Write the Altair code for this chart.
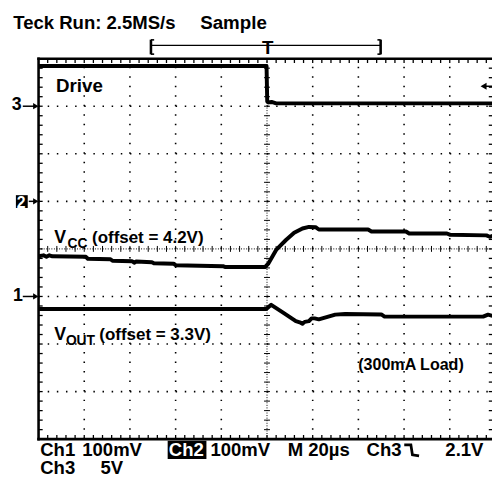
import altair as alt
import pandas as pd
import numpy as np

# ---- screen geometry in oscilloscope divisions (x: 0..10, y: 0..8) ----
XMAX = 9.9245

# ---- traces (divisions) ----
drive_x = [0.0, 4.99, 5.005, 5.03, 5.10, 5.20, 9.99]
drive_y = [7.845, 7.845, 7.10, 7.08, 7.09, 7.06, 7.06]

vcc_x = [0.0, 0.108, 0.173, 0.237, 0.302, 1.036, 1.079, 1.575, 1.618, 2.05, 2.093, 2.136,
         2.481, 2.524, 2.956, 2.999, 4.035, 4.078, 4.962, 5.027, 5.2, 5.415, 5.594, 5.776,
         5.918, 6.063, 6.134, 7.213, 7.286, 8.041, 8.112, 8.939, 9.012, 9.802, 9.875, 9.99]
vcc_y = [3.845, 3.865, 3.834, 3.865, 3.845, 3.834, 3.793, 3.782, 3.751, 3.741, 3.710, 3.735,
         3.720, 3.699, 3.689, 3.658, 3.637, 3.621, 3.621, 3.689, 3.979, 4.187, 4.338, 4.429,
         4.462, 4.456, 4.408, 4.408, 4.367, 4.367, 4.325, 4.325, 4.296, 4.284, 4.255, 4.29]

vout_x = [0.0, 4.984, 5.092, 5.344, 5.631, 5.717, 5.776, 5.825, 5.918, 5.976, 6.041, 6.134,
          6.494, 6.71, 7.502, 7.573, 9.73, 9.838, 9.99]
vout_y = [2.736, 2.736, 2.825, 2.667, 2.481, 2.456, 2.425, 2.466, 2.481, 2.539, 2.539, 2.518,
          2.618, 2.632, 2.622, 2.576, 2.576, 2.618, 2.58]

# ---- texts ----
txt_text = ["Teck Run: 2.5MS/s", "Sample", "Drive",
            "V", "(offset = 4.2V)", "V", "(offset = 3.3V)", "(300mA Load)",
            "Ch1", "100mV", "100mV", "M 20µs", "Ch3", "2.1V", "Ch3", "5V",
            "3", "1"]
txt_x = [-0.554, 3.538, 0.382,
         0.345, 1.17, 0.345, 1.33, 6.997,
         0.037, 0.956, 3.761, 5.452, 7.178, 8.904, 0.037, 1.353,
         -0.589, -0.561]
txt_y = [8.63, 8.63, 7.295,
         4.12, 4.12, 2.093, 2.093, 1.457,
         -0.359, -0.359, -0.359, -0.359, -0.359, -0.359, -0.725, -0.725,
         6.916, 2.908]
txt_size = [18.8, 19, 19,
            18, 17.2, 18, 17.2, 16.3,
            18.8, 18.8, 18.8, 18.8, 18.8, 18.8, 18.8, 18.8,
            18, 18]

sub_text = ["CC", "OUT"]
sub_x = [0.632, 0.598]
sub_y = [4.015, 1.99]

# inverted (white on black) labels
inv_text = ["Ch2", "2"]
inv_x = [2.85, -0.475]
inv_y = [-0.359, 4.86]
inv_box_x = [2.826, -0.496]
inv_box_x2 = [3.674, -0.237]
inv_box_y = [-0.415, 4.86]
inv_box_y2 = [-0.035, 5.13]

# channel ground markers (left) and trigger level (right)
mark_level = [7.0, 5.0, 3.0]
mark_x1 = [-0.345, -0.215, -0.345]
trig_level = 7.42

# trigger position bracket
brk_left, brk_right, brk_y = 2.46, 7.487, 8.28

# falling edge symbol
edge_x = [8.004, 8.149, 8.183, 8.328]
edge_y = [-0.12, -0.12, -0.33, -0.35]

FONT = "Liberation Sans"
XS = alt.Scale(domain=[0, XMAX], nice=False, zero=False)
YS = alt.Scale(domain=[0, 8], nice=False, zero=False)


def X(f):
    return alt.X(f, type="quantitative", scale=XS, axis=None)


def Y(f):
    return alt.Y(f, type="quantitative", scale=YS, axis=None)


layers = []

# dotted grid
gv = pd.DataFrame({"g": [1, 2, 3, 4, 6, 7, 8, 9], "a": 0, "b": 8})
layers.append(alt.Chart(gv).mark_rule(color="black", strokeWidth=1.6, strokeDash=[1.5, 8.15])
              .encode(x=X("g"), y=Y("a"), y2="b"))
gh = pd.DataFrame({"g": [1, 2, 3, 5, 6, 7], "a": 0, "b": XMAX})
layers.append(alt.Chart(gh).mark_rule(color="black", strokeWidth=1.6, strokeDash=[1.5, 7.77])
              .encode(y=Y("g"), x=X("a"), x2="b"))
# center lines
layers.append(alt.Chart(pd.DataFrame({"g": [5], "a": [0], "b": [8]}))
              .mark_rule(color="black", strokeWidth=1, strokeDash=[1, 1.6])
              .encode(x=X("g"), y=Y("a"), y2="b"))
layers.append(alt.Chart(pd.DataFrame({"g": [4], "a": [0], "b": [XMAX]}))
              .mark_rule(color="black", strokeWidth=1, strokeDash=[1, 1.6])
              .encode(y=Y("g"), x=X("a"), x2="b"))
minor_x = np.round(np.arange(0.2, 10, 0.2), 2)
minor_y = np.round(np.arange(0.2, 8, 0.2), 2)
ctx = pd.DataFrame({"t": minor_y, "a": 5 - 0.065, "b": 5 + 0.065})
layers.append(alt.Chart(ctx).mark_rule(color="black", strokeWidth=1)
              .encode(y=Y("t"), x=X("a"), x2="b"))
cty = pd.DataFrame({"t": minor_x, "a": 4 - 0.062, "b": 4 + 0.062})
layers.append(alt.Chart(cty).mark_rule(color="black", strokeWidth=1, clip=True)
              .encode(x=X("t"), y=Y("a"), y2="b"))
# border ticks
bt = pd.DataFrame({"t": minor_x, "a": 8 - 0.09, "b": 8})
layers.append(alt.Chart(bt).mark_rule(color="black", strokeWidth=1.3, clip=True)
              .encode(x=X("t"), y=Y("a"), y2="b"))
bb = pd.DataFrame({"t": minor_x, "a": 0, "b": 0.09})
layers.append(alt.Chart(bb).mark_rule(color="black", strokeWidth=1.3, clip=True)
              .encode(x=X("t"), y=Y("a"), y2="b"))
bl = pd.DataFrame({"t": minor_y, "a": 0, "b": 0.09})
layers.append(alt.Chart(bl).mark_rule(color="black", strokeWidth=1.3)
              .encode(y=Y("t"), x=X("a"), x2="b"))
br = pd.DataFrame({"t": minor_y, "a": XMAX - 0.07, "b": XMAX})
layers.append(alt.Chart(br).mark_rule(color="black", strokeWidth=1.3)
              .encode(y=Y("t"), x=X("a"), x2="b"))
# frame (top, bottom, left)
fr = pd.DataFrame({"x": [0, 0, 0], "x2": [XMAX, XMAX, 0], "y": [8, 0, 0], "y2": [8, 0, 8]})
layers.append(alt.Chart(fr).mark_rule(color="black", strokeWidth=2.6, strokeCap="square")
              .encode(x=X("x"), x2="x2", y=Y("y"), y2="y2"))

# traces
for tx, ty in [(drive_x, drive_y), (vcc_x, vcc_y), (vout_x, vout_y)]:
    d = pd.DataFrame({"x": tx, "y": ty, "o": range(len(tx))})
    layers.append(alt.Chart(d).mark_line(color="black", strokeWidth=4, clip=True,
                                          strokeJoin="round", strokeCap="round")
                  .encode(x=X("x"), y=Y("y"), order="o:O"))

# falling edge symbol
ed = pd.DataFrame({"x": edge_x, "y": edge_y, "o": range(len(edge_x))})
layers.append(alt.Chart(ed).mark_line(color="black", strokeWidth=2.8)
              .encode(x=X("x"), y=Y("y"), order="o:O"))

# trigger bracket
layers.append(alt.Chart(pd.DataFrame({"a": [brk_left], "b": [brk_right], "y": [brk_y]}))
              .mark_rule(color="black", strokeWidth=1.4)
              .encode(x=X("a"), x2="b", y=Y("y")))
bv = pd.DataFrame({"x": [brk_left, brk_right], "a": [brk_y - 0.19] * 2, "b": [brk_y + 0.12] * 2})
layers.append(alt.Chart(bv).mark_rule(color="black", strokeWidth=2.6)
              .encode(x=X("x"), y=Y("a"), y2="b"))
serif = pd.DataFrame({"a": [brk_left, brk_left, brk_right - 0.07, brk_right - 0.07],
                      "b": [brk_left + 0.07, brk_left + 0.07, brk_right, brk_right],
                      "y": [brk_y - 0.185, brk_y + 0.115, brk_y - 0.185, brk_y + 0.115]})
layers.append(alt.Chart(serif).mark_rule(color="black", strokeWidth=1.6)
              .encode(x=X("a"), x2="b", y=Y("y")))
layers.append(alt.Chart(pd.DataFrame({"x": [5.016], "y": [8.10], "t": ["T"]}))
              .mark_text(font=FONT, fontWeight="bold", fontSize=19, baseline="alphabetic", align="center")
              .encode(x=X("x"), y=Y("y"), text="t"))

# ground markers arrows
gm = pd.DataFrame({"y": mark_level, "a": mark_x1, "b": [-0.06] * 3})
layers.append(alt.Chart(gm).mark_rule(color="black", strokeWidth=1.5)
              .encode(x=X("a"), x2="b", y=Y("y")))
gp = pd.DataFrame({"y": mark_level, "x": [-0.06] * 3})
layers.append(alt.Chart(gp).mark_point(shape="triangle-right", filled=True, color="black", size=40, opacity=1)
              .encode(x=X("x"), y=Y("y")))
# trigger level arrow (right)
layers.append(alt.Chart(pd.DataFrame({"y": [trig_level], "a": [9.75], "b": [XMAX]}))
              .mark_rule(color="black", strokeWidth=1.5)
              .encode(x=X("a"), x2="b", y=Y("y")))
layers.append(alt.Chart(pd.DataFrame({"y": [trig_level], "x": [9.74]}))
              .mark_point(shape="triangle-left", filled=True, color="black", size=50, opacity=1)
              .encode(x=X("x"), y=Y("y")))

# inverted boxes
ib = pd.DataFrame({"x": inv_box_x, "x2": inv_box_x2, "y": inv_box_y, "y2": inv_box_y2})
layers.append(alt.Chart(ib).mark_rect(color="black")
              .encode(x=X("x"), x2="x2", y=Y("y"), y2="y2"))
it = pd.DataFrame({"x": inv_x, "y": inv_y, "t": inv_text, "s": [18.8, 16]})
layers.append(alt.Chart(it).mark_text(font=FONT, fontWeight="bold", color="white", align="left",
                                       baseline="alphabetic")
              .encode(x=X("x"), y=Y("y"), text="t", size=alt.Size("s:Q", scale=None, legend=None)))

# texts
tt = pd.DataFrame({"x": txt_x, "y": txt_y, "t": txt_text, "s": txt_size})
layers.append(alt.Chart(tt).mark_text(font=FONT, fontWeight="bold", color="black", align="left",
                                       baseline="alphabetic")
              .encode(x=X("x"), y=Y("y"), text="t", size=alt.Size("s:Q", scale=None, legend=None)))
st = pd.DataFrame({"x": sub_x, "y": sub_y, "t": sub_text})
layers.append(alt.Chart(st).mark_text(font=FONT, fontWeight="bold", color="black", align="left",
                                       baseline="alphabetic", fontSize=14)
              .encode(x=X("x"), y=Y("y"), text="t"))

chart = alt.layer(*layers).properties(
    width=460, height=386,
    autosize=alt.AutoSizeParams(type="none"),
    padding={"left": 31, "top": 48, "right": 0, "bottom": 35},
    background="white",
).configure_view(stroke=None)

chart.save("out.html", embed_options={"renderer": "svg", "actions": False})
